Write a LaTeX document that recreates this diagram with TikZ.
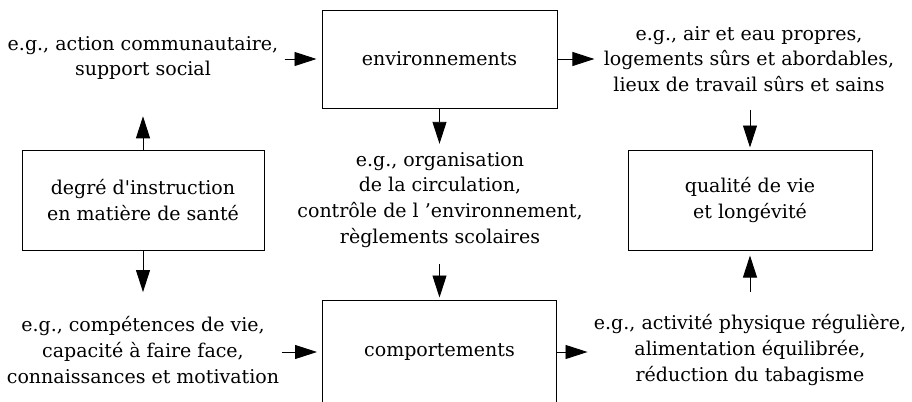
\documentclass[tikz,border=0pt]{standalone}
\usepackage{fontspec}
\setmainfont{DejaVu Serif}
\usetikzlibrary{arrows.meta}
\begin{document}
\begin{tikzpicture}[x=0.5pt,y=-0.5pt,
  box/.style={draw,line width=0.5pt,inner sep=0pt,font=\fontsize{9.5}{12.9}\selectfont},
  txt/.style={align=center,inner sep=0pt,font=\fontsize{9.5}{12.9}\selectfont},
  arr/.style={-{Triangle[length=11pt,width=7pt]},line width=0.45pt}]
\useasboundingbox (0,0) rectangle (912,402);
% boxes
\node[box,minimum width=117.5pt,minimum height=49pt] (env) at (439.5,59) {environnements};
\node[box,minimum width=121pt,minimum height=50pt,align=center] (deg) at (143,200) {degré d\textquotesingle instruction\\en matière de santé};
\node[box,minimum width=122pt,minimum height=50pt,align=center] (qual) at (750,200) {qualité de vie\\et longévité};
\node[box,minimum width=117pt,minimum height=52pt] (comp) at (439.5,352) {comportements};
% texts
\node[txt] (t1) at (143,58) {e.g., action communautaire,\\support social};
\node[txt] (t2) at (749,59) {e.g., air et eau propres,\\logements sûrs et abordables,\\lieux de travail sûrs et sains};
\node[txt] (t3) at (440,200) {e.g., organisation\\de la circulation,\\contrôle de l ’environnement,\\règlements scolaires};
\node[txt] (t5) at (143,350) {e.g., compétences de vie,\\capacité à faire face,\\connaissances et motivation};
\node[txt] (t6) at (750,350) {e.g., activité physique régulière,\\alimentation équilibrée,\\réduction du tabagisme};
% connectors
\draw[arr,shorten <=3pt,shorten >=2.5pt] (t1.east |- env.west) -- (env.west);
\draw[arr,shorten >=4.5pt] (env.east) -- (t2.west |- env.east);
\draw[arr,shorten >=4pt] (env.south) -- (env.south |- t3.north);
\draw[arr,shorten <=8pt,shorten >=1pt] (t3.south -| comp.north) -- (comp.north);
\draw[arr,shorten >=18pt] (deg.north) -- (deg.north |- t1.south);
\draw[arr,shorten >=12pt] (deg.south) -- (deg.south |- t5.north);
\draw[arr,shorten <=1pt,shorten >=2.5pt] (t5.east |- comp.west) -- (comp.west);
\draw[arr,shorten >=3pt] (comp.east) -- (t6.west |- comp.east);
\draw[arr,shorten <=9pt,shorten >=1pt] (t2.south -| qual.north) -- (qual.north);
\draw[arr,shorten <=11pt,shorten >=2.5pt] (t6.north -| qual.south) -- (qual.south);
\end{tikzpicture}
\end{document}
